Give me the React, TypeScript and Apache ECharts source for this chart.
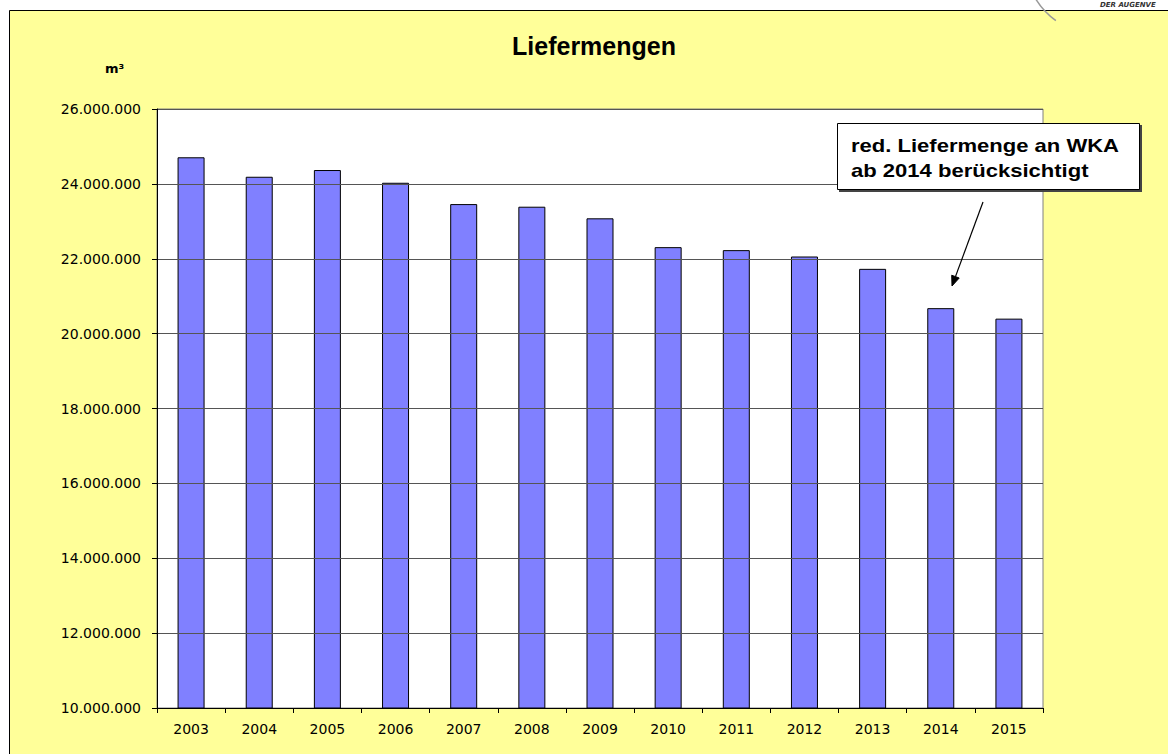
import React, { useEffect, useRef } from "react";
import * as echarts from "echarts";

const years = ["2003", "2004", "2005", "2006", "2007", "2008", "2009", "2010", "2011", "2012", "2013", "2014", "2015"];
const volumes = [24710000, 24190000, 24370000, 24030000, 23460000, 23390000, 23080000, 22310000, 22230000, 22060000, 21730000, 20680000, 20400000];
const yMin = 10000000;
const yMax = 26000000;
const yStep = 2000000;
const titleText = "Liefermengen";
const unitText = "m³";
const noteLines = ["red. Liefermenge an WKA", "ab 2014 berücksichtigt"];
const logoText = "DER AUGENVE";

function fmt(v: number): string {
  const s = Math.round(v).toString();
  return s.replace(/\B(?=(\d{3})+(?!\d))/g, ".");
}

export default function App() {
  const ref = useRef<HTMLDivElement>(null);
  useEffect(() => {
    if (!ref.current) return;
    const chart = echarts.init(ref.current, null, { renderer: "svg" });
    const sx = 983, sy = 202, tx = 952, ty = 286;
    const dx = tx - sx, dy = ty - sy;
    const len = Math.sqrt(dx * dx + dy * dy);
    const ux = dx / len, uy = dy / len;
    const bx = tx - 10 * ux, by = ty - 10 * uy;
    const px = -uy, py = ux;
    chart.setOption({
      animation: false,
      backgroundColor: "#ffffff",
      grid: {
        left: 157,
        top: 109,
        right: 125,
        bottom: 46,
        show: true,
        backgroundColor: "#ffffff",
        borderColor: "#808080",
        borderWidth: 1,
      },
      xAxis: {
        type: "category",
        data: years,
        boundaryGap: true,
        axisLine: { show: true, lineStyle: { color: "#000", width: 1 } },
        axisTick: { show: true, length: 5, inside: false, lineStyle: { color: "#000" } },
        axisLabel: { color: "#000", fontFamily: "DejaVu Sans", fontSize: 14, margin: 14 },
        splitLine: { show: false },
        z: 5,
      },
      yAxis: {
        type: "value",
        min: yMin,
        max: yMax,
        interval: yStep,
        axisLine: { show: true, lineStyle: { color: "#000", width: 1 } },
        axisTick: { show: true, length: 5, inside: false, lineStyle: { color: "#000" } },
        axisLabel: { color: "#000", fontFamily: "DejaVu Sans", fontSize: 14, margin: 16, formatter: (v: number) => fmt(v) },
        splitLine: { show: true, lineStyle: { color: "#555555", width: 1 } },
        z: 5,
      },
      series: [
        {
          type: "bar",
          data: volumes,
          barWidth: 27,
          itemStyle: { color: "#8080FF", borderColor: "#000", borderWidth: 1 },
          z: 3,
        },
      ],
      graphic: [
        {
          type: "rect",
          z: -10,
          silent: true,
          shape: { x: 9.5, y: 10.5, width: 1200, height: 800 },
          style: { fill: "#FFFF99", stroke: "#000", lineWidth: 1 },
        },
        {
          type: "text",
          x: 1100,
          y: 1,
          style: { text: logoText, fill: "#333", font: "italic bold 7px 'DejaVu Sans'" },
        },
        {
          type: "arc",
          shape: { cx: 1100, cy: -40, r: 75, startAngle: 2.2, endAngle: 2.9 },
          style: { stroke: "#999", lineWidth: 1.5, fill: "none" },
        },
        {
          type: "text",
          x: 594,
          y: 45.5,
          style: {
            text: titleText,
            fill: "#000",
            font: "bold 25px 'Liberation Sans'",
            align: "center",
            verticalAlign: "middle",
          },
        },
        {
          type: "text",
          x: 105,
          y: 68,
          style: {
            text: unitText,
            fill: "#000",
            font: "bold 13px 'DejaVu Sans'",
            align: "left",
            verticalAlign: "middle",
          },
        },
        {
          type: "rect",
          z: 20,
          shape: { x: 839, y: 125, width: 303, height: 67 },
          style: { fill: "#444", stroke: "none" },
        },
        {
          type: "rect",
          z: 21,
          shape: { x: 837.5, y: 123.5, width: 302, height: 66 },
          style: { fill: "#fff", stroke: "#000", lineWidth: 1 },
        },
        {
          type: "text",
          z: 22,
          x: 851,
          y: 145,
          scaleX: 1.16,
          style: {
            text: noteLines[0],
            fill: "#000",
            font: "bold 19px 'Liberation Sans'",
            align: "left",
            verticalAlign: "middle",
          },
        },
        {
          type: "text",
          z: 22,
          x: 851,
          y: 170,
          scaleX: 1.16,
          style: {
            text: noteLines[1],
            fill: "#000",
            font: "bold 19px 'Liberation Sans'",
            align: "left",
            verticalAlign: "middle",
          },
        },
        {
          type: "line",
          z: 22,
          shape: { x1: sx, y1: sy, x2: bx, y2: by },
          style: { stroke: "#000", lineWidth: 1.2 },
        },
        {
          type: "polygon",
          z: 22,
          shape: {
            points: [
              [tx, ty],
              [bx + 4 * px, by + 4 * py],
              [bx - 4 * px, by - 4 * py],
            ],
          },
          style: { fill: "#000", stroke: "#000", lineWidth: 1 },
        },
      ],
    });
    return () => chart.dispose();
  }, []);
  return (
    <div
      ref={ref}
      style={{ position: "fixed", left: 0, top: 0, width: 1168, height: 754 }}
    />
  );
}
